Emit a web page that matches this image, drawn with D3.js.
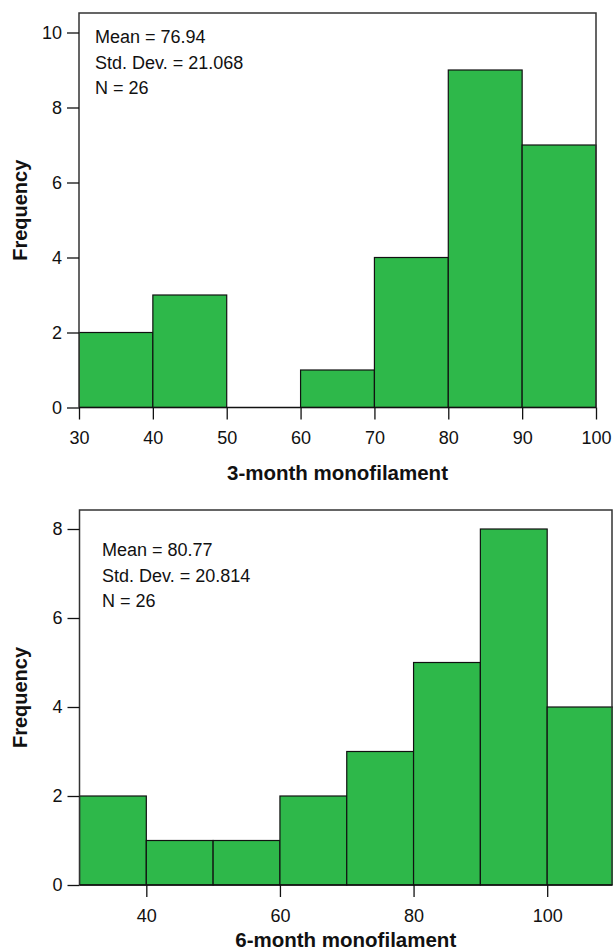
<!DOCTYPE html>
<html><head><meta charset="utf-8">
<script src="https://cdn.jsdelivr.net/npm/d3@7"></script>
<style>
body{margin:0;background:#fff;}
svg text{font-family:"Liberation Sans",Arial,sans-serif;fill:#111;}
</style></head>
<body><svg id="c" width="613" height="950"></svg>
<script>
// Top histogram: 3-month monofilament
const binEdges1 = [30,40,50,60,70,80,90,100];
const counts1 = [2,3,0,1,4,9,7];
const xTicks1 = [30,40,50,60,70,80,90,100];
const yTicks1 = [0,2,4,6,8,10];
const stats1 = ["Mean = 76.94","Std. Dev. = 21.068","N = 26"];
const xTitle1 = "3-month monofilament";

// Bottom histogram: 6-month monofilament
const binEdges2 = [30,40,50,60,70,80,90,100,110];
const counts2 = [2,1,1,2,3,5,8,4];
const xTicks2 = [40,60,80,100];
const yTicks2 = [0,2,4,6,8];
const stats2 = ["Mean = 80.77","Std. Dev. = 20.814","N = 26"];
const xTitle2 = "6-month monofilament";

const yTitle = "Frequency";
const fill = "#2EB84A";

const svg = d3.select("#c");

function hist(cfg){
  const g = svg.append("g");
  const x = d3.scaleLinear().domain(cfg.xDomain).range(cfg.xRange);
  const y = d3.scaleLinear().domain([0, cfg.yMax]).range(cfg.yRange);
  const frameRight = cfg.frameRight;
  const clipId = "clip"+cfg.id;
  svg.append("clipPath").attr("id",clipId).append("rect")
    .attr("x",x(cfg.xDomain[0])).attr("y",cfg.frameTop-1)
    .attr("width",frameRight-x(cfg.xDomain[0])+1).attr("height",y(0)-cfg.frameTop+2);
  const bins = cfg.counts.map((c,i)=>({x0:cfg.edges[i],x1:cfg.edges[i+1],c}));
  g.append("g").attr("clip-path",`url(#${clipId})`).selectAll("rect").data(bins.filter(b=>b.c>0)).join("rect")
    .attr("x",d=>x(d.x0)).attr("width",d=>x(d.x1)-x(d.x0))
    .attr("y",d=>y(d.c)).attr("height",d=>y(0)-y(d.c))
    .attr("fill",fill).attr("stroke","#111").attr("stroke-width",1.2);
  // frame
  g.append("path")
    .attr("d",`M${x(cfg.xDomain[0])},${y(0)}V${cfg.frameTop}H${frameRight}V${y(0)}`)
    .attr("fill","none").attr("stroke","#333").attr("stroke-width",1.5);
  g.append("line").attr("x1",x(cfg.xDomain[0])).attr("x2",frameRight)
    .attr("y1",y(0)).attr("y2",y(0)).attr("stroke","#111").attr("stroke-width",1.5);
  // axes
  const ya = g.append("g").attr("transform",`translate(${x(cfg.xDomain[0])},0)`)
    .call(d3.axisLeft(y).tickValues(cfg.yTicks).tickSize(12).tickPadding(5));
  const xa = g.append("g").attr("transform",`translate(0,${y(0)})`)
    .call(d3.axisBottom(x).tickValues(cfg.xTicks).tickSize(12).tickPadding(12));
  [ya,xa].forEach(a=>{
    a.select(".domain").remove();
    a.selectAll("line").attr("stroke","#111").attr("stroke-width",1.3);
    a.selectAll("text").attr("font-size",18).attr("fill","#111")
      .style("font-family","'Liberation Sans',Arial,sans-serif");
  });
  // stats
  cfg.stats.forEach((s,i)=>{
    g.append("text").attr("x",cfg.statX).attr("y",cfg.statY+i*25.5)
      .attr("font-size",18).text(s);
  });
  // titles
  g.append("text").attr("x",(x(cfg.xDomain[0])+frameRight)/2).attr("y",cfg.xTitleY)
    .attr("text-anchor","middle").attr("font-weight","bold").attr("font-size",20.5).text(cfg.xTitle);
  const cy = (cfg.frameTop+y(0))/2;
  g.append("text").attr("transform",`translate(27,${cy}) rotate(-90)`)
    .attr("text-anchor","middle").attr("font-weight","bold").attr("font-size",20).text(yTitle);
}

hist({id:1, xDomain:[30,100], xRange:[79,596], yMax:10, yRange:[407.5,32.5],
  frameTop:13, frameRight:596, edges:binEdges1, counts:counts1, xTicks:xTicks1, yTicks:yTicks1,
  stats:stats1, statX:95, statY:43, xTitle:xTitle1, xTitleY:480});
hist({id:2, xDomain:[30,110], xRange:[79.5,614], yMax:8, yRange:[885,529],
  frameTop:510, frameRight:612, edges:binEdges2, counts:counts2, xTicks:xTicks2, yTicks:yTicks2,
  stats:stats2, statX:102, statY:556, xTitle:xTitle2, xTitleY:947});
</script></body></html>
